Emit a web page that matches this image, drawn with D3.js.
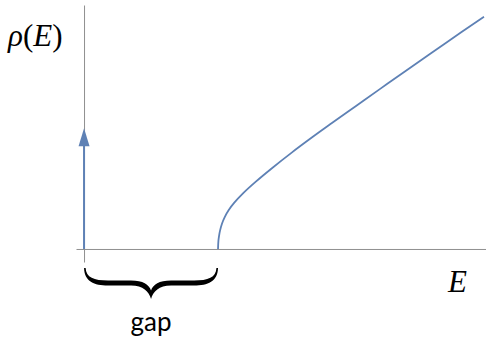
<!DOCTYPE html>
<html>
<head>
<meta charset="utf-8">
<script src="https://cdn.jsdelivr.net/npm/d3@7"></script>
<style>
  body { margin: 0; background: #fff; }
  svg { display: block; }
</style>
</head>
<body>
<svg id="chart"></svg>
<script>
// energy in units of the gap, density in arbitrary units
const gap = 1;
const deltaHeight = 0.9;
const energies = [1.0, 1.003, 1.008, 1.015, 1.03, 1.05, 1.08, 1.12, 1.19, 1.28, 1.4, 1.55, 1.7, 1.85, 2.03, 2.21, 2.4, 2.7, 2.985];
const density  = [0.0, 0.062, 0.1, 0.137, 0.19, 0.238, 0.29, 0.343, 0.418, 0.5, 0.6, 0.718, 0.83, 0.938, 1.066, 1.193, 1.326, 1.535, 1.731];

const width = 486, height = 338;
const lineColor = "#5e81b5";
const axisColor = "#8f8f8f";

const svg = d3.select("#chart")
  .attr("width", width)
  .attr("height", height);

const x = d3.scaleLinear().domain([-0.06, 3.0]).range([76, 486]);
const y = d3.scaleLinear().domain([-0.097, 1.818]).range([262, 5]);

// axes without ticks, just the lines
svg.append("g")
  .attr("transform", `translate(0,${y(0)})`)
  .call(d3.axisBottom(x).tickValues([]).tickSizeOuter(0));
svg.append("g")
  .attr("transform", `translate(${x(0)},0)`)
  .call(d3.axisLeft(y).tickValues([]).tickSizeOuter(0));
svg.selectAll(".domain")
  .attr("stroke", axisColor)
  .attr("stroke-width", 1);

// continuum above the gap
const points = energies.map((e, i) => [e, density[i]]);
svg.append("path")
  .datum(points)
  .attr("fill", "none")
  .attr("stroke", lineColor)
  .attr("stroke-width", 1.8)
  .attr("d", d3.line()
    .x(d => x(d[0]))
    .y(d => y(d[1]))
    .curve(d3.curveCatmullRom.alpha(0.5)));

// delta function at E = 0
const tipY = y(deltaHeight);
const headLen = 18, headHalf = 5.5;
svg.append("line")
  .attr("x1", x(0)).attr("x2", x(0))
  .attr("y1", y(0)).attr("y2", tipY + headLen - 2)
  .attr("stroke", lineColor)
  .attr("stroke-width", 2);
svg.append("path")
  .attr("fill", lineColor)
  .attr("d", `M${x(0)},${tipY} L${x(0) + headHalf},${tipY + headLen} L${x(0) - headHalf},${tipY + headLen} Z`);

// brace under the gap
const x0 = x(0), x1 = x(gap), xc = (x0 + x1) / 2;
const braceTop = 268, lo = 285.5, hi = 280.5;
const brace = [
  `M${x0},${braceTop}`,
  `C${x0 + 0.5},${lo - 4} ${x0 + 10},${lo} ${x0 + 24},${lo}`,
  `L${xc - 20},${lo}`,
  `C${xc - 8},${lo} ${xc - 2},${lo + 6} ${xc},${lo + 13.5}`,
  `C${xc + 2},${lo + 6} ${xc + 8},${lo} ${xc + 20},${lo}`,
  `L${x1 - 24},${lo}`,
  `C${x1 - 10},${lo} ${x1 - 0.5},${lo - 4} ${x1},${braceTop}`,
  `L${x1 - 1.6},${braceTop}`,
  `C${x1 - 2},${hi - 3} ${x1 - 10},${hi} ${x1 - 24},${hi}`,
  `L${xc + 20},${hi}`,
  `C${xc + 8},${hi} ${xc + 2},${hi + 4} ${xc},${hi + 10}`,
  `C${xc - 2},${hi + 4} ${xc - 8},${hi} ${xc - 20},${hi}`,
  `L${x0 + 24},${hi}`,
  `C${x0 + 10},${hi} ${x0 + 2},${hi - 3} ${x0 + 1.6},${braceTop}`,
  "Z"
].join(" ");
svg.append("path")
  .attr("d", brace)
  .attr("fill", "#000");

// labels
const yLabel = svg.append("text")
  .attr("x", 8)
  .attr("y", 46)
  .style("font-family", "'Liberation Serif', 'Times New Roman', serif")
  .style("font-size", "31px")
  .attr("fill", "#000");
yLabel.append("tspan").style("font-style", "italic").text("ρ");
yLabel.append("tspan").text("(");
yLabel.append("tspan").style("font-style", "italic").text("E");
yLabel.append("tspan").text(")");

svg.append("text")
  .attr("x", 448)
  .attr("y", 292)
  .style("font-family", "'Liberation Serif', 'Times New Roman', serif")
  .style("font-style", "italic")
  .style("font-size", "31px")
  .attr("fill", "#000")
  .text("E");

svg.append("text")
  .attr("x", xc)
  .attr("y", 331)
  .attr("text-anchor", "middle")
  .style("font-family", "Lato, 'Open Sans', sans-serif")
  .style("font-size", "26px")
  .attr("fill", "#000")
  .text("gap");
</script>
</body>
</html>
